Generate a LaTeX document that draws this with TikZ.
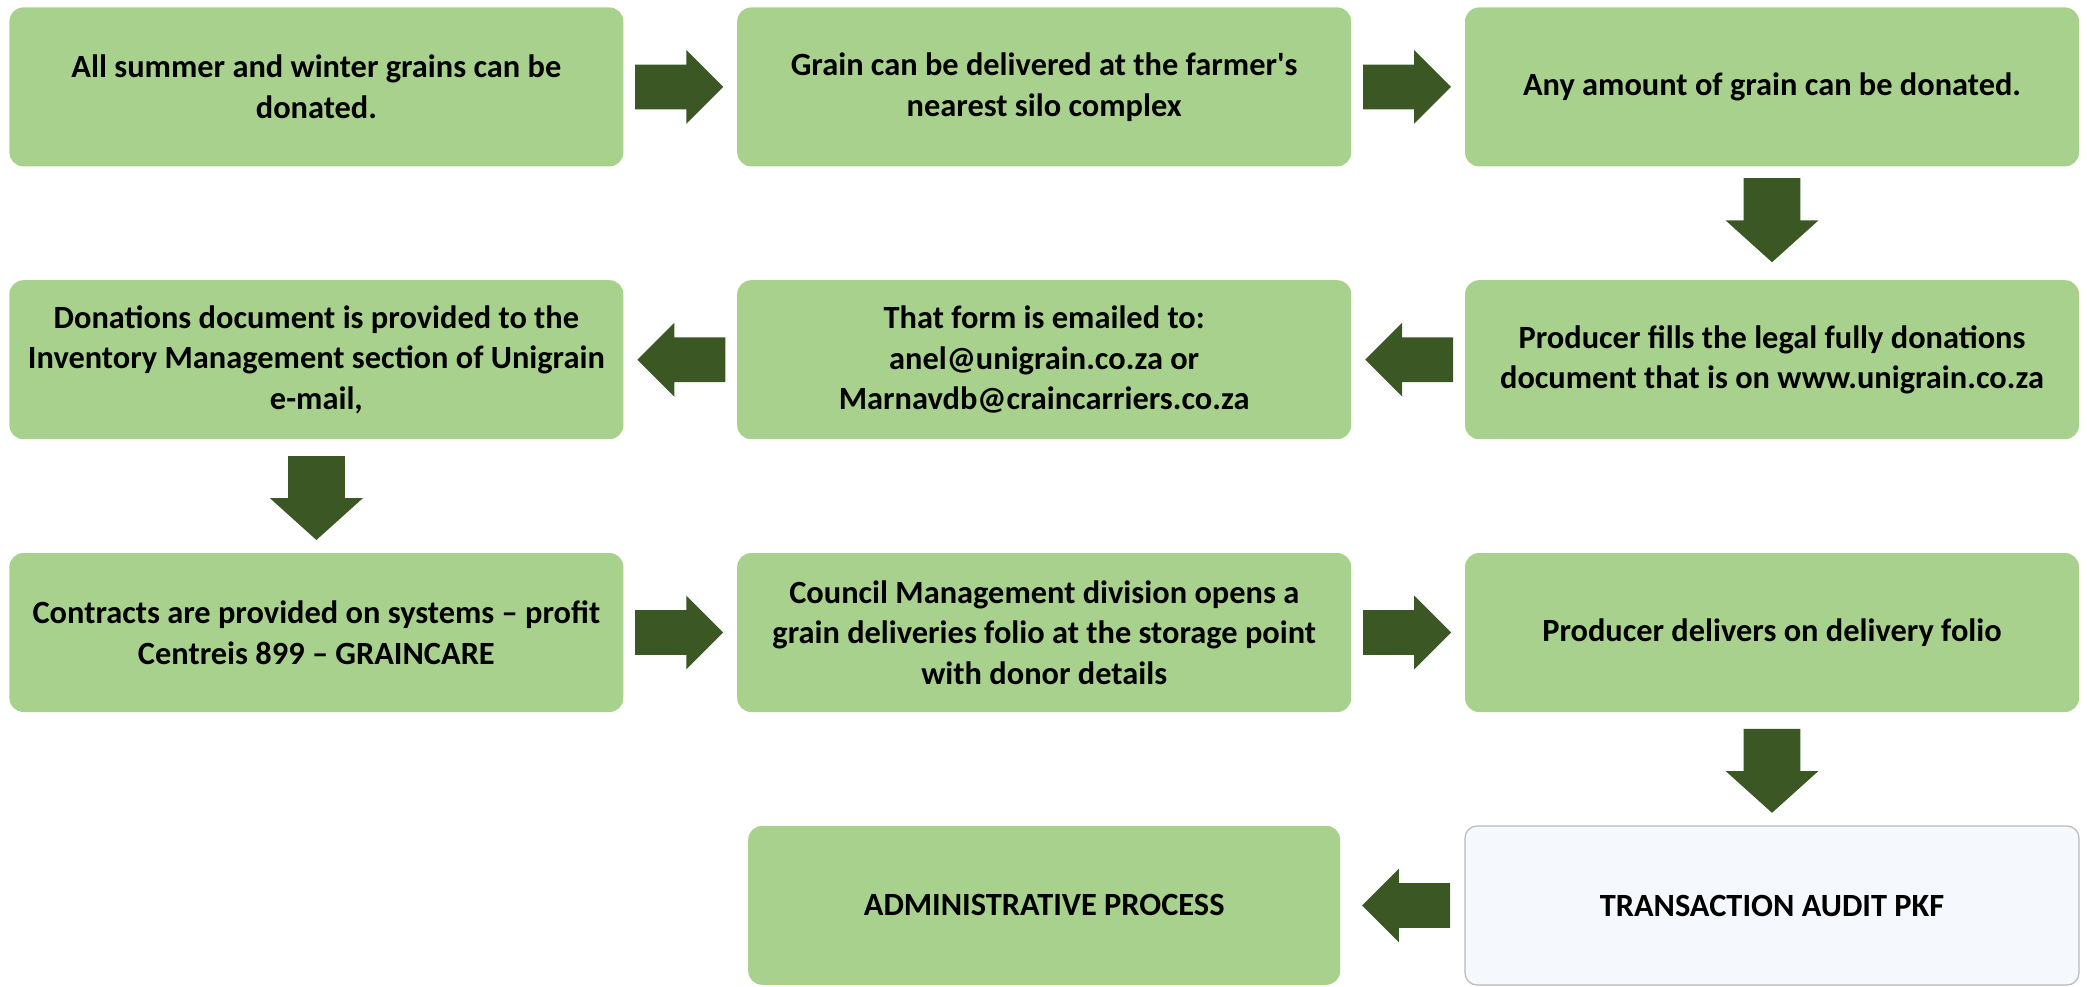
\documentclass[tikz,border=0pt]{standalone}
\usepackage{fontspec}
\setmainfont{Carlito}
\usepackage{tikz}
\usetikzlibrary{positioning,calc,shapes.arrows}
\usepackage{xcolor}
\definecolor{boxgreen}{HTML}{A9D18E}
\definecolor{arrowgreen}{HTML}{3A5724}
\definecolor{auditfill}{HTML}{F5F8FC}

\tikzset{
  box/.style={fill=boxgreen,rounded corners=7pt,minimum width=307pt,minimum height=79.5pt,inner sep=0pt,align=center,font=\fontsize{16.2}{20.3}\selectfont\bfseries},
  auditbox/.style={box,fill=auditfill,draw=gray!55,line width=0.6pt,rounded corners=6pt},
  harrow/.style={single arrow,fill=arrowgreen,draw=none,inner sep=0pt,inner ysep=11pt,minimum height=44pt,minimum width=36.5pt,single arrow head extend=7.25pt,single arrow tip angle=90,anchor=tail},
  varrow/.style={single arrow,fill=arrowgreen,draw=none,inner sep=0pt,inner ysep=14pt,minimum height=42pt,minimum width=46pt,single arrow head extend=9pt,single arrow tip angle=96,rotate=-90,anchor=tail}
}

\begin{document}
\begin{tikzpicture}[node distance=56.5pt]
\useasboundingbox (0,0) rectangle (1043.5pt,-493pt);
% first row
\node[box,anchor=north west] (b1) at (4.5pt,-3.5pt) {All summer and winter grains can be\\donated.};
\node[box,right=of b1] (b2) {Grain can be delivered at the farmer\textquotesingle s\\nearest silo complex};
\node[box,right=of b2] (b3) {Any amount of grain can be donated.};
% second row
\node[box,below=of b3] (b6) {Producer fills the legal fully donations\\document that is on www.unigrain.co.za};
\node[box,left=of b6] (b5) {That form is emailed to:\\anel@unigrain.co.za or\\Marnavdb@craincarriers.co.za};
\node[box,left=of b5] (b4) {Donations document is provided to the\\Inventory Management section of Unigrain\\e-mail,};
% third row
\node[box,below=of b4] (b7) {Contracts are provided on systems -- profit\\Centreis 899 -- GRAINCARE};
\node[box,right=of b7] (b8) {Council Management division opens a\\grain deliveries folio at the storage point\\with donor details};
\node[box,right=of b8] (b9) {Producer delivers on delivery folio};
% last row
\node[auditbox,below=of b9] (b11) {TRANSACTION AUDIT PKF};
\node[box,below=of b8,minimum width=296pt] (b10) {ADMINISTRATIVE PROCESS};

% block arrows
\node[harrow] (a12) at ([xshift=5.5pt]b1.east) {};
\node[harrow] (a23) at ([xshift=5.5pt]b2.east) {};
\node[varrow] (a36) at ([yshift=-5.5pt]b3.south) {};
\node[harrow,rotate=180] (a65) at ([xshift=-5.5pt]b6.west) {};
\node[harrow,rotate=180] (a54) at ([xshift=-5.5pt]b5.west) {};
\node[varrow] (a47) at ([yshift=-8pt]b4.south) {};
\node[harrow] (a78) at ([xshift=5.5pt]b7.east) {};
\node[harrow] (a89) at ([xshift=5.5pt]b8.east) {};
\node[varrow] (a911) at ([yshift=-8pt]b9.south) {};
\node[harrow,rotate=180] (a1110) at ([xshift=-7pt]b11.west) {};
\end{tikzpicture}
\end{document}
